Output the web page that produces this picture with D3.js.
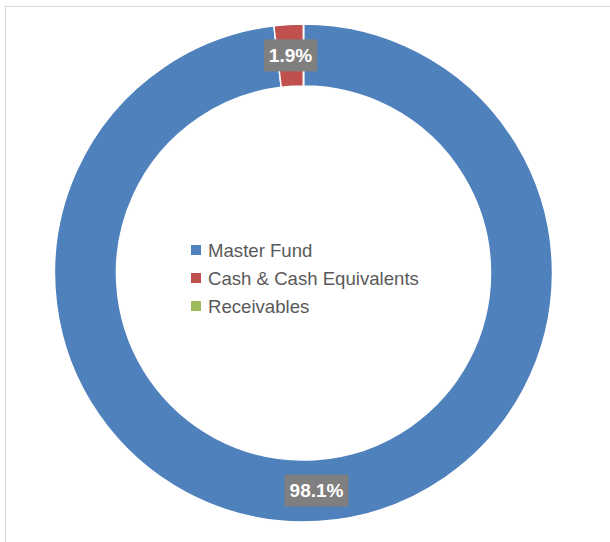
<!DOCTYPE html>
<html>
<head>
<meta charset="utf-8">
<script src="https://cdn.jsdelivr.net/npm/d3@7"></script>
<style>
  html, body { margin: 0; padding: 0; background: #fff; }
  svg { display: block; }
</style>
</head>
<body>
<div id="chart"></div>
<script>
var categories = ["Master Fund", "Cash & Cash Equivalents", "Receivables"];
var values = [98.1, 1.9, 0];
var colors = ["#4f81bd", "#c0504d", "#9bbb59"];

var width = 610;
var height = 542;
var cx = 303.5;
var cy = 273;
var outerR = 249;
var innerR = 187;

var svg = d3
  .select("#chart")
  .append("svg")
  .attr("width", width)
  .attr("height", height);

// chart border (only top and left visible in the reference)
svg
  .append("rect")
  .attr("x", 5.5)
  .attr("y", 6.5)
  .attr("width", width + 10)
  .attr("height", height + 10)
  .attr("fill", "none")
  .attr("stroke", "#d9d9d9")
  .attr("stroke-width", 1);

var data = categories.map(function (c, i) {
  return { name: c, value: values[i], color: colors[i] };
});

var pie = d3
  .pie()
  .sort(null)
  .value(function (d) {
    return d.value;
  });

var arc = d3.arc().innerRadius(innerR).outerRadius(outerR);
var labelArc = d3
  .arc()
  .innerRadius((innerR + outerR) / 2)
  .outerRadius((innerR + outerR) / 2);

var g = svg.append("g").attr("transform", "translate(" + cx + "," + cy + ")");

var arcs = pie(data);

g.selectAll("path.slice")
  .data(arcs)
  .enter()
  .append("path")
  .attr("class", "slice")
  .attr("d", arc)
  .attr("fill", function (d) {
    return d.data.color;
  })
  .attr("stroke", "#fff")
  .attr("stroke-width", 1.5);

// data labels in grey boxes
var labels = g
  .selectAll("g.label")
  .data(
    arcs.filter(function (d) {
      return d.data.value > 0;
    })
  )
  .enter()
  .append("g")
  .attr("class", "label")
  .attr("transform", function (d) {
    var p = labelArc.centroid(d);
    return "translate(" + p[0] + "," + p[1] + ")";
  });

labels.each(function (d) {
  var sel = d3.select(this);
  var txt = sel
    .append("text")
    .attr("text-anchor", "middle")
    .attr("dy", "0.36em")
    .attr("fill", "#fff")
    .attr("font-family", "'Liberation Sans', Arial, sans-serif")
    .attr("font-weight", "bold")
    .attr("font-size", 19)
    .text(d3.format(".1f")(d.data.value) + "%");
  var w = txt.node().getComputedTextLength();
  sel
    .insert("rect", "text")
    .attr("x", -w / 2 - 5)
    .attr("y", -16)
    .attr("width", w + 10)
    .attr("height", 32)
    .attr("fill", "#7f7f7f");
});

// legend in the hole
var legend = svg
  .append("g")
  .attr("transform", "translate(191,250)");

var item = legend
  .selectAll("g.item")
  .data(data)
  .enter()
  .append("g")
  .attr("class", "item")
  .attr("transform", function (d, i) {
    return "translate(0," + i * 28 + ")";
  });

item
  .append("rect")
  .attr("x", 0)
  .attr("y", -5)
  .attr("width", 10)
  .attr("height", 10)
  .attr("fill", function (d) {
    return d.color;
  });

item
  .append("text")
  .attr("x", 17)
  .attr("dy", "0.36em")
  .attr("fill", "#595959")
  .attr("font-family", "'Liberation Sans', Arial, sans-serif")
  .attr("font-size", 18.6)
  .text(function (d) {
    return d.name;
  });
</script>
</body>
</html>
